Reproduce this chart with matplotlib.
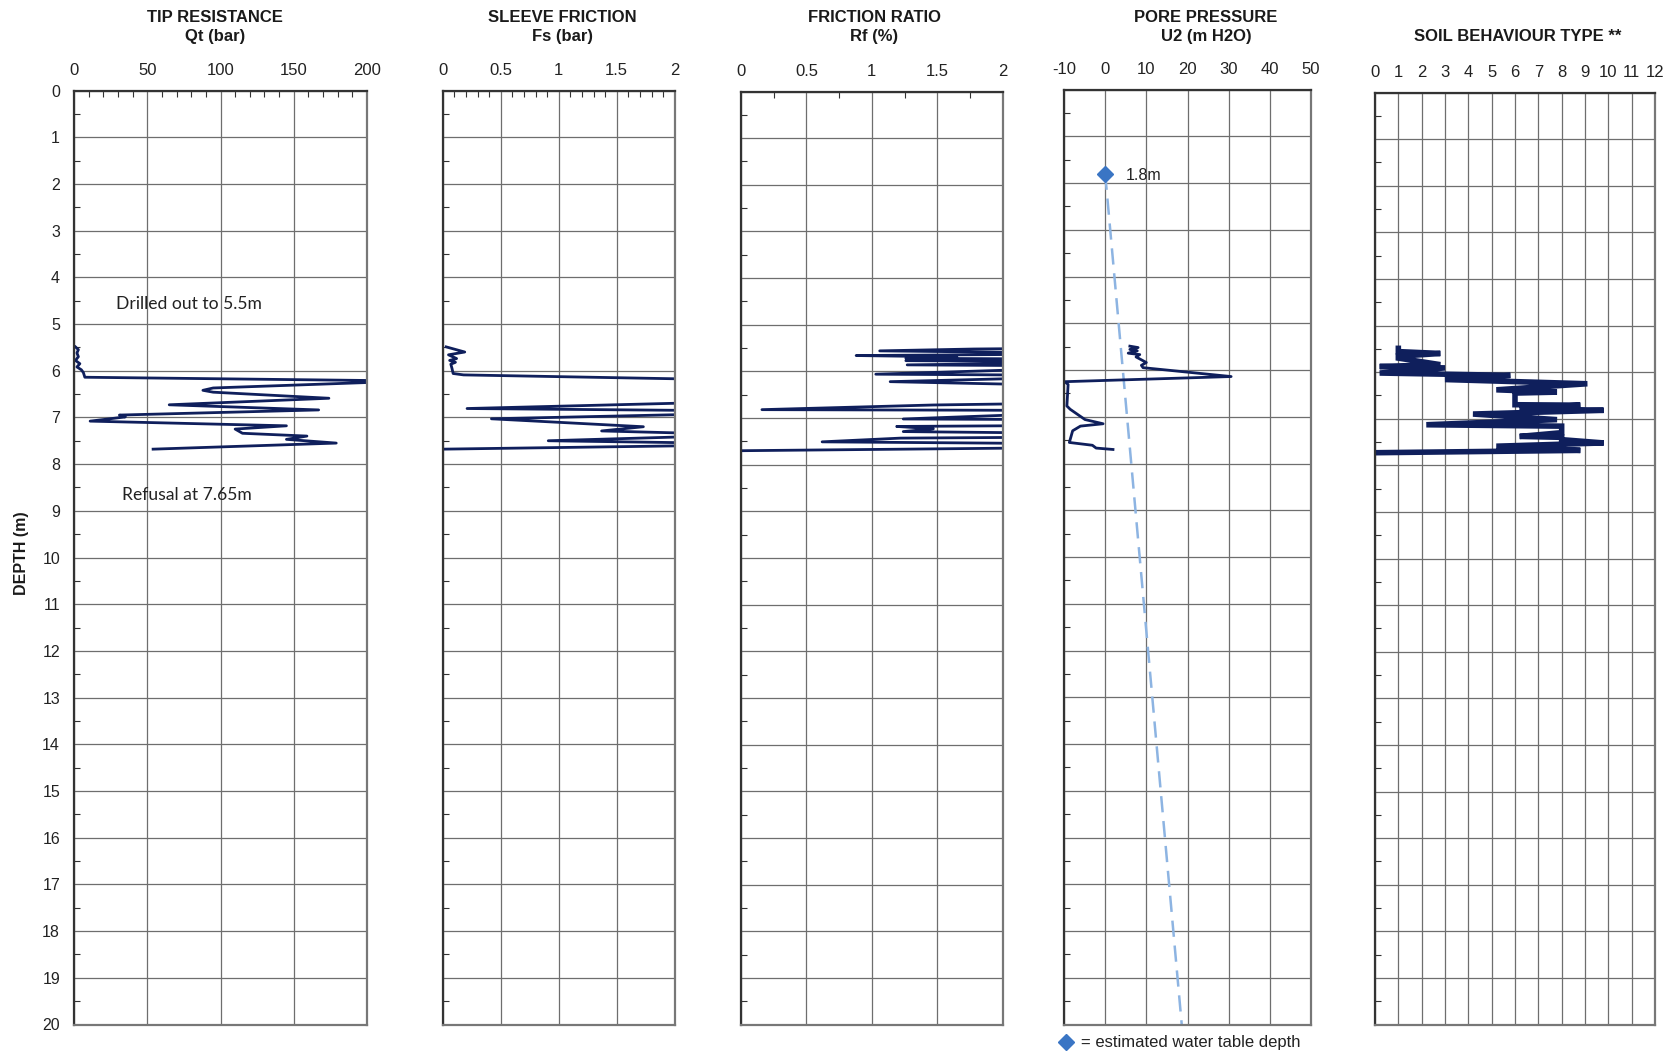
import matplotlib
matplotlib.use('Agg')
import matplotlib.pyplot as plt
from matplotlib.ticker import MultipleLocator, FormatStrFormatter

plt.rcParams['font.family'] = ['Liberation Sans', 'DejaVu Sans']
plt.rcParams['axes.unicode_minus'] = False

W, H = 1675, 1054
line_col = '#0f1f5c'
grid_col = '#6e6e6e'

# CPT trace, tip resistance Qt (bar) against depth (m)
qt_depth = [5.49, 5.55, 5.62, 5.70, 5.78, 5.85, 5.92, 5.98, 6.04, 6.14, 6.22, 6.37, 6.42, 6.46,
            6.59, 6.73, 6.84, 6.95, 6.99, 7.08, 7.18, 7.25, 7.34, 7.40, 7.47, 7.55, 7.68]
qt = [1, 3, 2, 3, 1, 4, 2, 5, 6.4, 7.4, 230, 95, 88, 95,
      174, 65, 167, 31, 35, 11, 145, 110, 115, 159, 145, 179, 54]

# sleeve friction Fs (bar)
fs_depth = [5.49, 5.60, 5.66, 5.74, 5.78, 5.82, 5.86, 5.95, 6.06, 6.09, 6.20, 6.66, 6.81, 6.86,
            6.91, 7.03, 7.20, 7.29, 7.35, 7.40, 7.50, 7.55, 7.60, 7.68]
fs = [0.03, 0.19, 0.05, 0.12, 0.06, 0.11, 0.07, 0.08, 0.09, 0.18, 2.6, 2.6, 0.21, 2.6,
      2.6, 0.42, 1.73, 1.37, 2.3, 2.3, 0.91, 2.3, 2.3, 0.0]

# friction ratio Rf (%)
rf_depth = [5.49, 5.52, 5.56, 5.62, 5.66, 5.69, 5.72, 5.74, 5.77, 5.80, 5.86, 5.89, 6.06, 6.09,
            6.22, 6.33, 6.66, 6.72, 6.82, 6.84, 7.02, 7.04, 7.15, 7.18, 7.23, 7.29, 7.34, 7.40,
            7.43, 7.51, 7.56, 7.62, 7.70]
rf = [3, 1.78, 1.06, 3, 0.88, 1.65, 1.26, 3, 1.26, 3, 1.27, 3, 1.03, 3,
      1.14, 3, 3, 1.47, 0.16, 3, 1.24, 3, 3, 1.19, 1.47, 1.24, 3, 3,
      1.22, 0.62, 3, 3, 0.0]

# pore pressure U2 (m H2O)
u2_depth = [5.49, 5.52, 5.56, 5.59, 5.64, 5.67, 5.72, 5.84, 5.90, 5.95, 6.14, 6.25, 6.31, 6.77,
            6.84, 7.06, 7.15, 7.20, 7.30, 7.55, 7.61, 7.67, 7.70]
u2 = [6.0, 8.0, 6.0, 7.8, 5.6, 8.4, 7.5, 10.0, 8.8, 9.2, 30.6, -9.8, -9.0, -9.3,
      -8.5, -4.9, -0.5, -6.0, -7.9, -8.7, -3.1, -2.2, 1.9]

# water table and hydrostatic line
wt_depth = 1.8
hydro_depth = [1.8, 20.0]
hydro_u = [0.0, 18.6]

# soil behaviour type
sbt_depth = [5.49, 5.56, 5.60, 5.66, 5.70, 5.84, 5.88, 5.91, 6.02, 6.07, 6.16, 6.25, 6.38, 6.43,
             6.45, 6.70, 6.71, 6.78, 6.82, 6.90, 7.02, 7.13, 7.16, 7.30, 7.38, 7.40, 7.45, 7.52,
             7.59, 7.68, 7.73]
sbt = [1, 1, 2.8, 1, 1, 2.8, 0.2, 3, 0.2, 5.8, 3, 9.1, 5.2, 7.8,
       6, 6, 8.8, 6.2, 9.8, 4.2, 7.8, 2.2, 8, 8, 6.2, 8, 8, 9.8,
       5.2, 8.8, 0]


def px_axes(left, right, top, bottom):
    return [left / W, 1 - bottom / H, (right - left) / W, (bottom - top) / H]


fig = plt.figure(figsize=(W / 100, H / 100), dpi=100)

panels = [
    # left, right, top, bottom, xlim, major, minor, title_x, title
    (74, 367, 90.5, 1024.5, (0, 200), 50, 10, 215, ['TIP RESISTANCE', 'Qt (bar)']),
    (442.7, 674.7, 90.5, 1024.5, (0, 2), 0.5, 0.1, 562, ['SLEEVE FRICTION', 'Fs (bar)']),
    (741, 1002.7, 91.5, 1024.5, (0, 2), 0.5, 0.25, 874, ['FRICTION RATIO', 'Rf (%)']),
    (1064, 1311, 89.5, 1024.5, (-10, 50), 10, None, 1206, ['PORE PRESSURE', 'U2 (m H2O)']),
    (1375, 1655, 92.5, 1024.5, (0, 12), 1, None, 1518, ['', 'SOIL BEHAVIOUR TYPE **']),
]

axes = []
for i, (l, r, t, b, xl, maj, mnr, tx, title) in enumerate(panels):
    ax = fig.add_axes(px_axes(l, r, t, b))
    ax.set_xlim(xl)
    ax.set_ylim(20, 0)
    ax.xaxis.tick_top()
    ax.xaxis.set_major_locator(MultipleLocator(maj))
    ax.xaxis.set_major_formatter(FormatStrFormatter('%g'))
    if mnr:
        ax.xaxis.set_minor_locator(MultipleLocator(mnr))
    ax.yaxis.set_major_locator(MultipleLocator(1))
    ax.yaxis.set_minor_locator(MultipleLocator(0.5))
    ax.grid(True, which='major', color=grid_col, lw=0.9)
    ax.tick_params(axis='x', which='major', length=0, pad=9, labelsize=12, colors='#222222')
    ax.tick_params(axis='x', which='minor', direction='in', length=4, width=0.8, color='#333333', top=True)
    ax.tick_params(axis='y', which='major', length=0, pad=10, labelsize=11.5, colors='#222222')
    ax.tick_params(axis='y', which='minor', direction='in', length=4, width=0.8, color='#333333')
    if i > 0:
        ax.set_yticklabels([])
    for side, sp in ax.spines.items():
        sp.set_color('#333333' if side in ('left', 'top') else '#777777')
        sp.set_linewidth(1.6)
    for k, txt in enumerate(title):
        if txt:
            fig.text(tx / W, 1 - (17 + 19.5 * k) / H, txt, ha='center', va='center',
                     fontsize=12, fontweight='bold', color='#1a1a1a')
    axes.append(ax)

ax1, ax2, ax3, ax4, ax5 = axes

ax1.plot(qt, qt_depth, color=line_col, lw=2.0, solid_joinstyle='round')
ax1.text(29, 4.58, 'Drilled out to 5.5m', family='Lato', fontsize=12.6, va='center', color='#222222')
ax1.text(33, 8.67, 'Refusal at 7.65m', family='Lato', fontsize=12.6, va='center', color='#222222')

ax2.plot(fs, fs_depth, color=line_col, lw=2.0, solid_joinstyle='round')
ax3.plot(rf, rf_depth, color=line_col, lw=2.0, solid_joinstyle='round')

ax4.plot(hydro_u, hydro_depth, color='#8db4e2', lw=1.8, dashes=(6.5, 3.5))
ax4.plot([0], [wt_depth], marker='D', ms=8, color='#3a75c4', ls='none', zorder=5)
ax4.text(5.0, wt_depth + 0.04, '%.1fm' % wt_depth, fontsize=11.5, va='center', color='#222222')
ax4.plot(u2, u2_depth, color=line_col, lw=2.0, solid_joinstyle='round')

ax5.plot(sbt, sbt_depth, color=line_col, lw=4, solid_joinstyle='miter')

fig.text(22 / W, 0.475, 'DEPTH (m)', rotation=90, ha='center', va='center',
         fontsize=11.5, fontweight='bold', color='#1a1a1a')

# legend for the water table marker
fig.lines.append(plt.Line2D([1066 / W], [1 - 1042 / H], marker='D', ms=8, color='#3a75c4',
                            ls='none', transform=fig.transFigure, figure=fig))
fig.text(1081 / W, 1 - 1043 / H, '= estimated water table depth', fontsize=12,
         va='center', color='#222222')

fig.savefig('out.png', dpi=100)
